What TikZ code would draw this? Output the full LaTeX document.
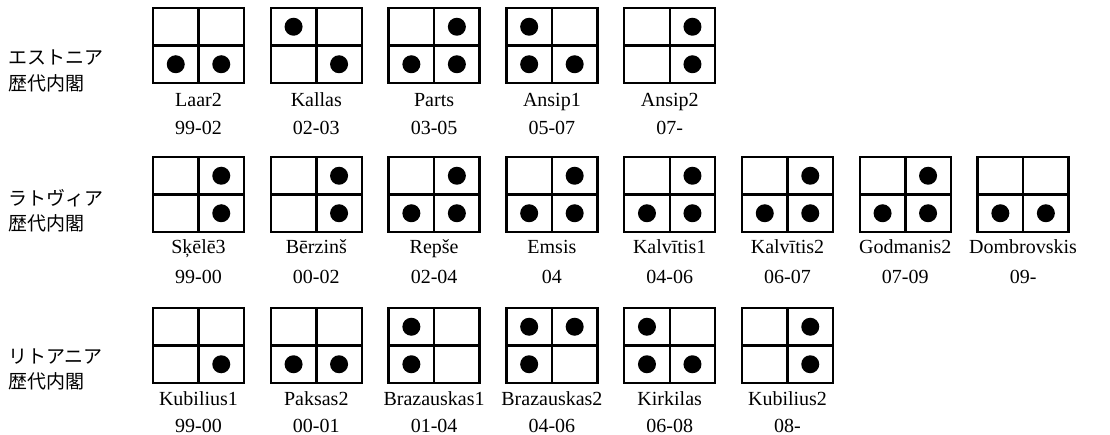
\documentclass[tikz,border=0pt]{standalone}
\usepackage{fontspec}
\setmainfont{Liberation Serif}
\newfontfamily\jpfont{Noto Sans CJK JP}
\begin{document}
\begin{tikzpicture}[x=1pt,y=-1pt,
  cabbox/.style={line width=2.4pt},
  seat/.style={fill=black},
  pmname/.style={anchor=base,inner sep=0pt,font=\fontsize{20}{20}\selectfont},
  country/.style={anchor=base west,inner sep=0pt,font=\jpfont\fontsize{19}{19}\selectfont}]
  \useasboundingbox (0,0) rectangle (1110,435);

  % Estonia
  \node[country] (ee1) at (8,65) {エストニア};
  \node[country] (ee2) at (8,91) {歴代内閣};
  \foreach \pmn/\yrs/\tl/\tr/\bl/\br [count=\i] in
    {Laar2/99-02/0/0/1/1, Kallas/02-03/1/0/0/1, Parts/03-05/0/1/1/1,
     Ansip1/05-07/1/0/1/1, Ansip2/07-/0/1/0/1}{
    \pgfmathsetmacro\xl{153+(\i-1)*117.8}
    \draw[cabbox] (\xl,8) rectangle ++(91,75) (\xl+45.5,8) -- ++(0,75) (\xl,45.5) -- ++(91,0);
    \ifnum\tl=1 \fill[seat] (\xl+22.75,26.75) circle (9pt); \fi
    \ifnum\tr=1 \fill[seat] (\xl+68.25,26.75) circle (9pt); \fi
    \ifnum\bl=1 \fill[seat] (\xl+22.75,64.25) circle (9pt); \fi
    \ifnum\br=1 \fill[seat] (\xl+68.25,64.25) circle (9pt); \fi
    \node[pmname] (ee-pm\i) at (\xl+45.5,107) {\pmn};
    \node[pmname] (ee-yr\i) at (\xl+45.5,135) {\yrs};
  }

  % Latvia
  \node[country] (lv1) at (8,206) {ラトヴィア};
  \node[country] (lv2) at (8,231) {歴代内閣};
  \foreach \pmn/\yrs/\tl/\tr/\bl/\br [count=\i] in
    {Sķēlē3/99-00/0/1/0/1, Bērzinš/00-02/0/1/0/1, Repše/02-04/0/1/1/1,
     Emsis/04/0/1/1/1, Kalvītis1/04-06/0/1/1/1, Kalvītis2/06-07/0/1/1/1,
     Godmanis2/07-09/0/1/1/1, Dombrovskis/09-/0/0/1/1}{
    \pgfmathsetmacro\xl{153+(\i-1)*117.8}
    \draw[cabbox] (\xl,157) rectangle ++(91,75) (\xl+45.5,157) -- ++(0,75) (\xl,194.5) -- ++(91,0);
    \ifnum\tl=1 \fill[seat] (\xl+22.75,175.75) circle (9pt); \fi
    \ifnum\tr=1 \fill[seat] (\xl+68.25,175.75) circle (9pt); \fi
    \ifnum\bl=1 \fill[seat] (\xl+22.75,213.25) circle (9pt); \fi
    \ifnum\br=1 \fill[seat] (\xl+68.25,213.25) circle (9pt); \fi
    \node[pmname] (lv-pm\i) at (\xl+45.5,254) {\pmn};
    \node[pmname] (lv-yr\i) at (\xl+45.5,284) {\yrs};
  }

  % Lithuania
  \node[country] (lt1) at (8,363) {リトアニア};
  \node[country] (lt2) at (8,388) {歴代内閣};
  \foreach \pmn/\yrs/\tl/\tr/\bl/\br [count=\i] in
    {Kubilius1/99-00/0/0/0/1, Paksas2/00-01/0/0/1/1, Brazauskas1/01-04/1/0/1/0,
     Brazauskas2/04-06/1/1/1/0, Kirkilas/06-08/1/0/1/1, Kubilius2/08-/0/1/0/1}{
    \pgfmathsetmacro\xl{153+(\i-1)*117.8}
    \draw[cabbox] (\xl,308) rectangle ++(91,75) (\xl+45.5,308) -- ++(0,75) (\xl,345.5) -- ++(91,0);
    \ifnum\tl=1 \fill[seat] (\xl+22.75,326.75) circle (9pt); \fi
    \ifnum\tr=1 \fill[seat] (\xl+68.25,326.75) circle (9pt); \fi
    \ifnum\bl=1 \fill[seat] (\xl+22.75,364.25) circle (9pt); \fi
    \ifnum\br=1 \fill[seat] (\xl+68.25,364.25) circle (9pt); \fi
    \node[pmname] (lt-pm\i) at (\xl+45.5,405) {\pmn};
    \node[pmname] (lt-yr\i) at (\xl+45.5,432) {\yrs};
  }
\end{tikzpicture}
\end{document}
